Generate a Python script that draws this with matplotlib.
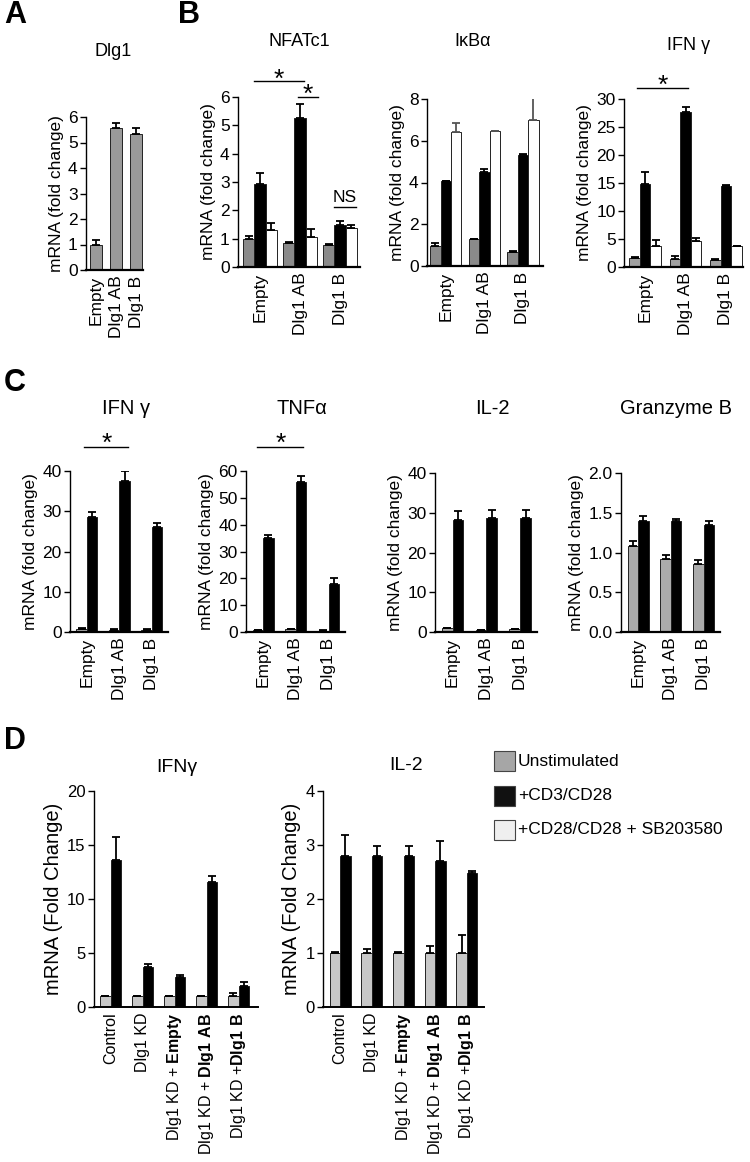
import matplotlib
matplotlib.use("Agg")
import matplotlib.pyplot as plt
from matplotlib.patches import Rectangle
import numpy as np

plt.rcParams['font.family'] = ['Liberation Sans', 'DejaVu Sans']
plt.rcParams['mathtext.fontset'] = 'custom'
plt.rcParams['mathtext.rm'] = 'Liberation Sans'
plt.rcParams['mathtext.bf'] = 'Liberation Sans:bold'

W, H = 750, 1162

# ---------------- data ----------------
groups3 = ["Empty", "Dlg1 AB", "Dlg1 B"]

# Panel A: Dlg1
a_vals = [1.0, 5.55, 5.35]
a_err = [0.18, 0.22, 0.20]

# Panel B: NFATc1
nfat_unstim = [1.0, 0.85, 0.77]
nfat_unstim_err = [0.10, 0.02, 0.05]
nfat_cd3 = [2.93, 5.25, 1.50]
nfat_cd3_err = [0.40, 0.50, 0.12]
nfat_sb = [1.32, 1.05, 1.38]
nfat_sb_err = [0.23, 0.28, 0.12]

# Panel B: IkBa
ikb_unstim = [0.95, 1.30, 0.65]
ikb_unstim_err = [0.15, 0.0, 0.08]
ikb_cd3 = [4.05, 4.50, 5.30]
ikb_cd3_err = [0.0, 0.15, 0.05]
ikb_sb = [6.40, 6.45, 7.00]
ikb_sb_err = [0.45, 0.0, 1.25]

# Panel B: IFN gamma
ifnb_unstim = [1.6, 1.5, 1.3]
ifnb_unstim_err = [0.1, 0.4, 0.1]
ifnb_cd3 = [14.8, 27.6, 14.4]
ifnb_cd3_err = [2.2, 1.0, 0.3]
ifnb_sb = [3.8, 4.6, 3.7]
ifnb_sb_err = [1.0, 0.5, 0.1]

# Panel C
c_ifn_unstim = [0.8, 0.6, 0.6]
c_ifn_unstim_err = [0.2, 0.2, 0.2]
c_ifn_cd3 = [28.5, 37.5, 26.0]
c_ifn_cd3_err = [1.2, 2.5, 1.2]

c_tnf_unstim = [0.7, 1.0, 0.5]
c_tnf_unstim_err = [0.2, 0.3, 0.2]
c_tnf_cd3 = [35.0, 56.0, 18.0]
c_tnf_cd3_err = [1.3, 2.0, 2.2]

c_il2_unstim = [1.0, 0.5, 0.7]
c_il2_unstim_err = [0.1, 0.1, 0.1]
c_il2_cd3 = [28.2, 28.8, 28.6]
c_il2_cd3_err = [2.2, 2.0, 2.0]

c_gzm_unstim = [1.08, 0.92, 0.85]
c_gzm_unstim_err = [0.07, 0.05, 0.05]
c_gzm_cd3 = [1.40, 1.39, 1.35]
c_gzm_cd3_err = [0.06, 0.03, 0.05]

# Panel D
groups5 = ["Control", "Dlg1 KD", r"Dlg1 KD + $\mathbf{Empty}$",
           r"Dlg1 KD + $\mathbf{Dlg1\ AB}$", r"Dlg1 KD +$\mathbf{Dlg1\ B}$"]
d_ifn_unstim = [1.0, 1.0, 1.0, 1.0, 1.0]
d_ifn_unstim_err = [0.05, 0.05, 0.05, 0.05, 0.3]
d_ifn_cd3 = [13.6, 3.7, 2.8, 11.6, 1.95]
d_ifn_cd3_err = [2.1, 0.3, 0.2, 0.5, 0.35]

d_il2_unstim = [1.0, 1.0, 1.0, 1.0, 1.0]
d_il2_unstim_err = [0.01, 0.08, 0.01, 0.13, 0.33]
d_il2_cd3 = [2.80, 2.80, 2.80, 2.70, 2.48]
d_il2_cd3_err = [0.38, 0.18, 0.18, 0.38, 0.03]

legend_labels = ["Unstimulated", "+CD3/CD28", "+CD28/CD28 + SB203580"]

# ---------------- figure ----------------
fig = plt.figure(figsize=(W / 100, H / 100), dpi=100)


def add_ax(x0, x1, ytop, ybot):
    return fig.add_axes([x0 / W, 1 - ybot / H, (x1 - x0) / W, (ybot - ytop) / H])


def style(ax, ymax, yticks, labels, xlim, tick_fs=12.5, lab_fs=12.5,
          ylabel="mRNA (fold change)", fmt=None, xl_fs=12.5):
    ax.set_ylim(0, ymax)
    ax.set_xlim(*xlim)
    ax.set_yticks(yticks)
    if fmt:
        ax.set_yticklabels([fmt.format(t) for t in yticks])
    ax.set_xticks(range(len(labels)))
    ax.set_xticklabels(labels, rotation=90, fontsize=xl_fs)
    ax.tick_params(axis='x', length=0, pad=4)
    ax.tick_params(axis='y', direction='out', length=4, width=1, labelsize=tick_fs, pad=2)
    for s in ['top', 'right']:
        ax.spines[s].set_visible(False)
    ax.spines['left'].set_linewidth(1.0)
    ax.spines['bottom'].set_linewidth(1.6)
    ax.set_ylabel(ylabel, fontsize=lab_fs, labelpad=3)


def bars(ax, vals_list, err_list, colors, width, ecolors=None):
    n = len(vals_list)
    x = np.arange(len(vals_list[0]))
    offs = (np.arange(n) - (n - 1) / 2) * width
    for i, (v, e, c) in enumerate(zip(vals_list, err_list, colors)):
        ec = 'black' if ecolors is None else ecolors[i]
        ax.bar(x + offs[i], v, width, color=c, edgecolor='#222222', linewidth=0.7, zorder=2)
        ax.errorbar(x + offs[i], v, yerr=[np.zeros(len(e)), e], fmt='none',
                    ecolor=ec, elinewidth=1.3, capsize=3, capthick=1.3, zorder=3)


def sig(ax, x0, x1, y, txt="*", ty=None, fs=19):
    ax.plot([x0, x1], [y, y], color='black', lw=1.0, clip_on=False)
    ax.text((x0 + x1) / 2, y if ty is None else ty, txt, ha='center', va='center',
            fontsize=fs, clip_on=False)


GRAY_B = '#8a8a8a'
GRAY_C = '#ababab'
GRAY_D = '#c8c8c8'

# Panel A
ax = add_ax(86, 143, 117, 270)
bars(ax, [a_vals], [a_err], ['#9a9a9a'], 0.6)
style(ax, 6, range(0, 7), groups3, (-0.5, 2.35))
fig.text(113 / W, 1 - 52 / H, "Dlg1", ha='center', va='center', fontsize=13)

# Panel B: NFATc1
ax = add_ax(238, 360, 97, 267)
bars(ax, [nfat_unstim, nfat_cd3, nfat_sb], [nfat_unstim_err, nfat_cd3_err, nfat_sb_err],
     [GRAY_B, 'black', 'white'], 0.28)
style(ax, 6, range(0, 7), groups3, (-0.55, 2.5))
sig(ax, -0.16, 1.11, 6.57, ty=6.62)
sig(ax, 0.94, 1.46, 6.01, ty=6.06)
ax.plot([1.86, 2.39], [2.13, 2.13], color='black', lw=1.0)
ax.text(2.12, 2.2, "NS", ha='center', va='bottom', fontsize=12.5)
fig.text(299 / W, 1 - 42 / H, "NFATc1", ha='center', va='center', fontsize=13)

# Panel B: IkBa
ax = add_ax(427, 543, 99, 266)
bars(ax, [ikb_unstim, ikb_cd3, ikb_sb], [ikb_unstim_err, ikb_cd3_err, ikb_sb_err],
     [GRAY_B, 'black', 'white'], 0.27, ecolors=['black', 'black', '#555555'])
style(ax, 8, range(0, 9, 2), groups3, (-0.49, 2.52))
fig.text(473 / W, 1 - 42 / H, "IκBα", ha='center', va='center', fontsize=13)

# Panel B: IFN gamma
ax = add_ax(624, 743, 99, 267)
bars(ax, [ifnb_unstim, ifnb_cd3, ifnb_sb], [ifnb_unstim_err, ifnb_cd3_err, ifnb_sb_err],
     ['#a0a0a0', 'black', 'white'], 0.26)
style(ax, 30, range(0, 31, 5), groups3, (-0.52, 2.42))
sig(ax, -0.2, 1.06, 31.96, ty=32.3)
fig.text(689 / W, 1 - 46 / H, "IFN γ", ha='center', va='center', fontsize=13)

# Panel C
c_specs = [
    (70, 168, 471, c_ifn_unstim, c_ifn_unstim_err, c_ifn_cd3, c_ifn_cd3_err, 40, range(0, 41, 10), None, "IFN γ", 126),
    (246, 345, 471, c_tnf_unstim, c_tnf_unstim_err, c_tnf_cd3, c_tnf_cd3_err, 60, range(0, 61, 10), None, "TNFα", 302),
    (435, 537, 473, c_il2_unstim, c_il2_unstim_err, c_il2_cd3, c_il2_cd3_err, 40, range(0, 41, 10), None, "IL-2", 492),
    (621, 720, 473, c_gzm_unstim, c_gzm_unstim_err, c_gzm_cd3, c_gzm_cd3_err, 2.0, [0, 0.5, 1.0, 1.5, 2.0], "{:.1f}", "Granzyme B", 676),
]
c_axes = []
for x0, x1, yt, u, ue, s, se, ymax, yt_, fmt, title, tx in c_specs:
    ax = add_ax(x0, x1, yt, 632)
    bars(ax, [u, s], [ue, se], [GRAY_C, 'black'], 0.32)
    style(ax, ymax, list(yt_), groups3, (-0.52, 2.5), fmt=fmt)
    fig.text(tx / W, 1 - 408 / H, title, ha='center', va='center', fontsize=14.5)
    c_axes.append(ax)
sig(c_axes[0], -0.08, 1.28, 46.0, ty=46.8)
sig(c_axes[1], -0.17, 1.22, 69.0, ty=70.2)

# Panel D
d_specs = [
    (94, 258, d_ifn_unstim, d_ifn_unstim_err, d_ifn_cd3, d_ifn_cd3_err, 20, range(0, 21, 5), (-0.52, 4.6), "IFNγ", 177, 768),
    (323, 484, d_il2_unstim, d_il2_unstim_err, d_il2_cd3, d_il2_cd3_err, 4, range(0, 5), (-0.54, 4.54), "IL-2", 406, 765),
]
for x0, x1, u, ue, s, se, ymax, yt_, xl, title, tx, ty in d_specs:
    ax = add_ax(x0, x1, 791, 1007)
    bars(ax, [u, s], [ue, se], [GRAY_D, 'black'], 0.33)
    style(ax, ymax, list(yt_), groups5, xl, tick_fs=12, lab_fs=14.5,
          ylabel="mRNA (Fold Change)", xl_fs=11.5)
    ax.spines['bottom'].set_linewidth(1.4)
    fig.text(tx / W, 1 - ty / H, title, ha='center', va='center', fontsize=14)

# Legend
leg_colors = ['#a6a6a6', '#111111', '#efefef']
leg_y = [751, 786, 820]
for c, y, lab in zip(leg_colors, leg_y, legend_labels):
    fig.add_artist(Rectangle((494 / W, 1 - (y + 20) / H), 21 / W, 20 / H,
                             transform=fig.transFigure, facecolor=c,
                             edgecolor='#444444', linewidth=0.8))
    fig.text(518 / W, 1 - (y + 10) / H, lab, ha='left', va='center', fontsize=12.5)

# Panel letters
for lab, x, y in [("A", 4, 15), ("B", 178, 15), ("C", 4, 383), ("D", 4, 741)]:
    fig.text(x / W, 1 - y / H, lab, ha='left', va='center', fontsize=22, fontweight='bold')

fig.savefig("out.png", dpi=100)
